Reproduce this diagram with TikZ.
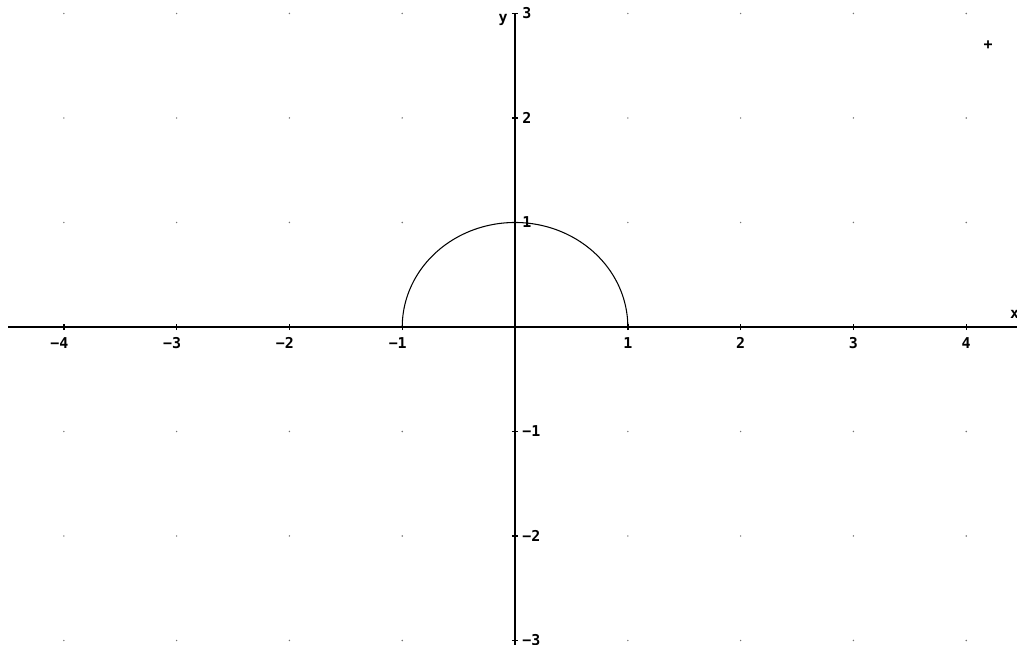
\documentclass[tikz,border=0pt]{standalone}
\usepackage{fontspec}
\setmonofont{DejaVu Sans Mono}
\usepackage{tikz}
\usetikzlibrary{positioning}

\tikzset{
  axisline/.style={line width=0.8pt},
  ticklbl/.style={font=\ttfamily\bfseries\fontsize{8.5}{10}\selectfont, inner sep=0pt},
  griddot/.style={fill=black!55}
}

\begin{document}
\begin{tikzpicture}[x=2.256cm,y=2.09cm]
  \useasboundingbox (-4.566,-3.043) rectangle (4.450,3.129);
  % lattice dots
  \foreach \i in {-4,...,4} {
    \foreach \j in {-3,...,3} {
      \ifnum\i=0\else\ifnum\j=0\else
        \fill[griddot] (\i,\j) circle[radius=0.45pt];
      \fi\fi
    }
  }
  % axes
  \draw[axisline] (-4.495,0)--(4.6,0);
  \draw[axisline] (0,3)--(0,-3.2);
  \draw[axisline] (-0.027,3)--(0.027,3);
  % x ticks
  \foreach \i in {-4,-3,-2,-1} {
    \draw[axisline] (\i,-0.029)--(\i,0.029);
    \node[ticklbl,anchor=north] (xl\i) at ([yshift=-0.2cm]\i,0) {\llap{−}\the\numexpr-\i\relax};
  }
  \foreach \i in {1,2,3,4} {
    \draw[axisline] (\i,-0.029)--(\i,0.029);
    \node[ticklbl,anchor=north] (xl\i) at ([yshift=-0.2cm]\i,0) {\i};
  }
  % y ticks
  \foreach \j in {-3,-2,-1} {
    \draw[axisline] (-0.027,\j)--(0.027,\j);
    \node[ticklbl,anchor=west] (yl\j) at ([xshift=0.14cm]0,\j) {−\the\numexpr-\j\relax};
  }
  \foreach \j in {1,2,3} {
    \draw[axisline] (-0.027,\j)--(0.027,\j);
    \node[ticklbl,anchor=west] (yl\j) at ([xshift=0.14cm]0,\j) {\j};
  }
  % axis names and marker
  \node[ticklbl] (ylab) at (-0.106,2.938) {y};
  \node[ticklbl] (xlab) at (4.43,0.124) {x};
  \node[ticklbl] (mark) at (4.193,2.699) {+};
  % upper half of unit circle
  \draw[line width=0.6pt] plot[domain=0:180,samples=90] ({cos(\x)},{sin(\x)});
\end{tikzpicture}
\end{document}
